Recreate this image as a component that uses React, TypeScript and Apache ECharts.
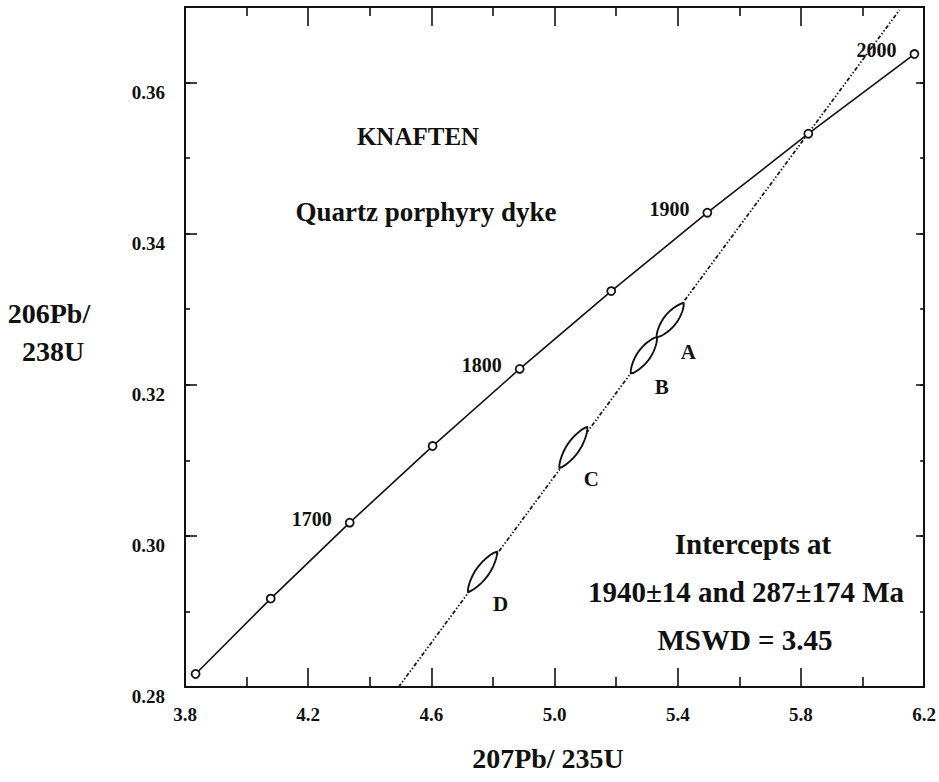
import React, { useEffect, useRef } from "react";
import * as echarts from "echarts";

// Concordia reference points (every 50 Ma)
const concordiaAges = [1600, 1650, 1700, 1750, 1800, 1850, 1900, 1950, 2000];
const concordiaX = [3.8344, 4.0784, 4.3348, 4.604, 4.8868, 5.184, 5.4961, 5.824, 6.1685];
const concordiaY = [0.28172, 0.2917, 0.30175, 0.31189, 0.3221, 0.3324, 0.34277, 0.35323, 0.36377];
const labelledAges = [1700, 1800, 1900, 2000];

// Discordia line end points
const discordiaX = [4.4935, 6.12];
const discordiaY = [0.28, 0.3696];

// Error ellipses (lower tip and upper tip)
const ellipseNames = ["A", "B", "C", "D"];
const ellipseLowX = [5.332, 5.248, 5.016, 4.719];
const ellipseLowY = [0.3263, 0.3215, 0.309, 0.2926];
const ellipseHighX = [5.419, 5.332, 5.106, 4.813];
const ellipseHighY = [0.3308, 0.3263, 0.3144, 0.2979];

// Axes
const xMin = 3.8;
const xMax = 6.2;
const xStep = 0.4;
const yMin = 0.28;
const yMax = 0.37;
const yStep = 0.02;
const yMinorStep = 0.01;

const FONT = "'Liberation Serif', 'Times New Roman', serif";
const INK = "#111";

export default function App() {
  const ref = useRef<HTMLDivElement>(null);

  useEffect(() => {
    if (!ref.current) return;
    const chart = echarts.init(ref.current, undefined, { renderer: "svg" });

    const concordiaData = concordiaAges.map((a, i) => [concordiaX[i], concordiaY[i], a]);
    const discordiaData = discordiaX.map((x, i) => [x, discordiaY[i]]);
    const ellipseData = ellipseNames.map((n, i) => ({
      name: n,
      value: [ellipseLowX[i], ellipseLowY[i], ellipseHighX[i], ellipseHighY[i]],
    }));

    const labelStyle = { fontFamily: FONT, fontWeight: "bold" as const, fontSize: 19, color: INK };

    const baseX = {
      type: "value" as const,
      min: xMin,
      max: xMax,
      interval: xStep,
      splitLine: { show: false },
      minorSplitLine: { show: false },
      axisLine: { show: true, lineStyle: { color: INK, width: 2 } },
    };
    const baseY = {
      type: "value" as const,
      min: yMin,
      max: yMax,
      splitLine: { show: false },
      minorSplitLine: { show: false },
    };

    chart.setOption({
      animation: false,
      backgroundColor: "#fff",
      grid: { left: 185, right: 10, top: 7, bottom: 95, containLabel: false },
      xAxis: [
        {
          ...baseX,
          position: "bottom",
          axisTick: { show: true, inside: true, length: 19, lineStyle: { color: INK, width: 1.6 } },
          minorTick: { show: true, splitNumber: 2, length: 10, lineStyle: { color: INK, width: 1.6 } },
          axisLabel: { ...labelStyle, margin: 18, formatter: (v: number) => v.toFixed(1) },
        },
        {
          ...baseX,
          position: "top",
          axisTick: { show: true, inside: true, length: 19, lineStyle: { color: INK, width: 1.6 } },
          minorTick: { show: true, splitNumber: 2, length: 9, lineStyle: { color: INK, width: 1.6 } },
          axisLabel: { show: false },
        },
      ],
      yAxis: [
        {
          ...baseY,
          interval: yStep,
          position: "left",
          axisLine: { show: true, lineStyle: { color: INK, width: 2 } },
          axisTick: { show: true, inside: true, length: 12, lineStyle: { color: INK, width: 1.6 } },
          axisLabel: {
            ...labelStyle,
            margin: 20,
            verticalAlign: "top",
            showMaxLabel: false,
            formatter: (v: number) => v.toFixed(2),
          },
        },
        {
          ...baseY,
          interval: yMinorStep,
          position: "left",
          axisLine: { show: false },
          axisTick: { show: true, inside: true, length: 5, lineStyle: { color: INK, width: 1.6 } },
          axisLabel: { show: false },
        },
        {
          ...baseY,
          interval: yStep,
          position: "right",
          axisLine: { show: true, lineStyle: { color: INK, width: 2 } },
          axisTick: { show: true, inside: true, length: 8, lineStyle: { color: INK, width: 1.6 } },
          axisLabel: { show: false },
        },
        {
          ...baseY,
          interval: yMinorStep,
          position: "right",
          axisLine: { show: false },
          axisTick: { show: true, inside: true, length: 4, lineStyle: { color: INK, width: 1.6 } },
          axisLabel: { show: false },
        },
      ],
      series: [
        {
          name: "Discordia",
          type: "line",
          xAxisIndex: 0,
          yAxisIndex: 0,
          data: discordiaData,
          symbol: "none",
          lineStyle: { color: "#1a1a1a", width: 1.8, type: [4, 2, 1.5, 2, 1.5, 2] },
          z: 2,
        },
        {
          name: "Concordia",
          type: "line",
          xAxisIndex: 0,
          yAxisIndex: 0,
          data: concordiaData,
          symbol: "circle",
          symbolSize: 8,
          showAllSymbol: true,
          itemStyle: { color: "#fff", borderColor: INK, borderWidth: 1.8 },
          lineStyle: { color: INK, width: 1.6 },
          label: {
            show: true,
            position: "left",
            distance: 13,
            offset: [0, -4],
            fontFamily: FONT,
            fontWeight: "bold",
            fontSize: 20,
            color: INK,
            formatter: (p: any) => (labelledAges.includes(p.value[2]) ? String(p.value[2]) : ""),
          },
          z: 3,
        },
        {
          name: "Ellipses",
          type: "custom",
          xAxisIndex: 0,
          yAxisIndex: 0,
          data: ellipseData,
          encode: { x: [0, 2], y: [1, 3] },
          renderItem: (params: any, api: any) => {
            const p1 = api.coord([api.value(0), api.value(1)]);
            const p2 = api.coord([api.value(2), api.value(3)]);
            const dx = p2[0] - p1[0];
            const dy = p2[1] - p1[1];
            const len = Math.sqrt(dx * dx + dy * dy);
            const nx = -dy / len;
            const ny = dx / len;
            const w = 6.5;
            const pts: number[][] = [];
            const n = 30;
            for (let k = 0; k <= n; k++) {
              const t = k / n;
              const h = w * Math.pow(Math.sin(Math.PI * t), 0.7);
              pts.push([p1[0] + dx * t + nx * h, p1[1] + dy * t + ny * h]);
            }
            for (let k = n - 1; k > 0; k--) {
              const t = k / n;
              const h = w * Math.pow(Math.sin(Math.PI * t), 0.7);
              pts.push([p1[0] + dx * t - nx * h, p1[1] + dy * t - ny * h]);
            }
            const cx = (p1[0] + p2[0]) / 2;
            const cy = (p1[1] + p2[1]) / 2;
            return {
              type: "group",
              children: [
                {
                  type: "polygon",
                  shape: { points: pts },
                  style: { fill: "#fff", stroke: INK, lineWidth: 1.9 },
                },
                {
                  type: "text",
                  x: cx + 18,
                  y: cy + 32,
                  style: {
                    text: ellipseNames[params.dataIndex],
                    fontFamily: FONT,
                    fontWeight: "bold",
                    fontSize: 21,
                    fill: INK,
                    align: "center",
                    verticalAlign: "middle",
                  },
                },
              ],
            };
          },
          z: 4,
        },
      ],
      graphic: [
        { text: "KNAFTEN", x: 418, y: 136, size: 25 },
        { text: "Quartz porphyry dyke", x: 426, y: 212, size: 27 },
        { text: "Intercepts at", x: 753, y: 544, size: 29 },
        { text: "1940\u00b114 and 287\u00b1174 Ma", x: 746, y: 592, size: 29 },
        { text: "MSWD = 3.45", x: 745, y: 640, size: 29 },
        { text: "206Pb/", x: 49, y: 313, size: 28 },
        { text: "238U", x: 53, y: 351, size: 28 },
        { text: "207Pb/ 235U", x: 548, y: 758, size: 28 },
      ].map((g) => ({
        type: "text",
        x: g.x,
        y: g.y,
        style: {
          text: g.text,
          fontFamily: FONT,
          fontWeight: "bold",
          fontSize: g.size,
          fill: INK,
          align: "center",
          verticalAlign: "middle",
        },
      })),
    });

    return () => chart.dispose();
  }, []);

  return (
    <div
      ref={ref}
      style={{ position: "absolute", left: 0, top: 0, width: 939, height: 782, background: "#fff" }}
    />
  );
}
